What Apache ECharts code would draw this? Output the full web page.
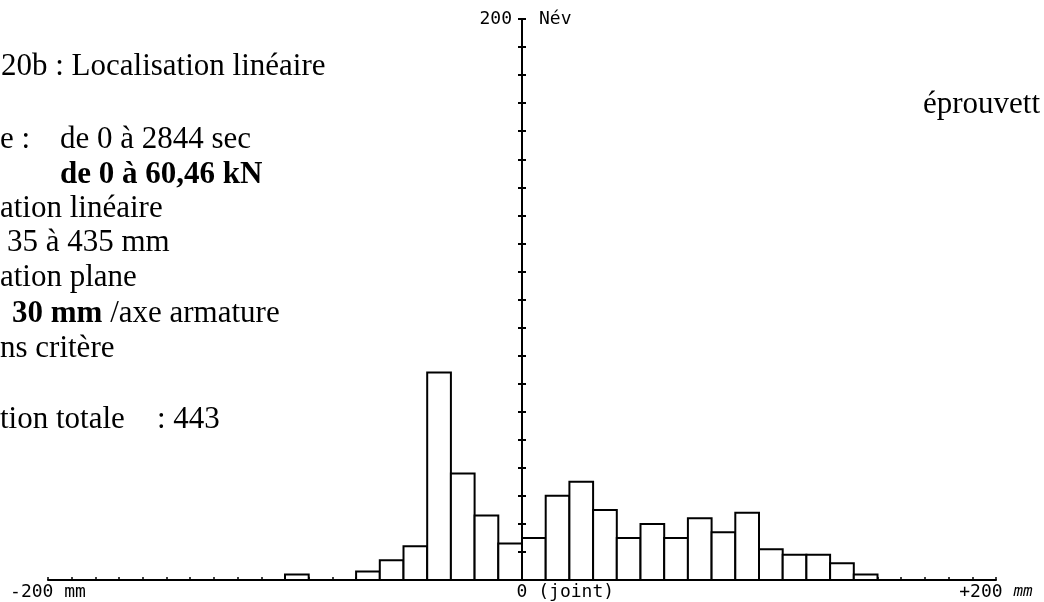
<!DOCTYPE html>
<html>
<head>
<meta charset="utf-8">
<script src="https://cdn.jsdelivr.net/npm/echarts@6/dist/echarts.min.js"></script>
<style>
  html, body { margin: 0; padding: 0; background: #fff; }
  #chart { width: 1044px; height: 602px; }
</style>
</head>
<body>
<div id="chart"></div>
<script>
// Linear localisation histogram: events per 10 mm class along the specimen
const binLower = [-100, -70, -60, -50, -40, -30, -20, -10, 0, 10, 20, 30, 40, 50, 60, 70, 80, 90, 100, 110, 120, 130, 140];
const binCount = [2, 3, 7, 12, 74, 38, 23, 13, 15, 30, 35, 25, 15, 20, 15, 22, 17, 24, 11, 9, 9, 6, 2];
const binWidth = 10;

// axis ranges and tick labels
const xRange = [-200, 200];
const xTickStep = 10;
const xLabelValues = [-200, 0, 200];
const xLabelTexts = ['-200 mm', '        0 (joint)', '+200 {i|mm}'];
const yRange = [0, 200];
const yTickStep = 10;
const yTopLabel = '200';
const yUnit = 'Név';

// annotation lines (rich markup: {b|...} is bold)
const noteLines = [
  '20b : Localisation linéaire',
  'e :',
  'de 0 à 2844 sec',
  '{b|de 0 à 60,46 kN}',
  'ation linéaire',
  '35 à 435 mm',
  'ation plane',
  '{b|30 mm} /axe armature',
  'ns critère',
  'tion totale',
  ': 443',
  'éprouvett'
];

// text layout: [left x, baseline y] of each annotation line
const noteLayout = [
  [1, 77], [0, 150], [60, 150], [60, 185], [0, 219], [7, 253],
  [0, 288], [12, 324], [0, 359], [0, 430], [157, 430], [923, 115]
];

const serif = '"Liberation Serif", "DejaVu Serif", serif';
const mono = '"DejaVu Sans Mono", monospace';
const noteSize = 31;
const axisFontSize = 18;

const chart = echarts.init(document.getElementById('chart'), null, { renderer: 'canvas' });

const yAxisCommon = {
  type: 'value',
  min: yRange[0],
  max: yRange[1],
  interval: yTickStep,
  z: 10,
  splitLine: { show: false },
  axisLabel: { show: false },
  axisLine: { show: true, onZero: true, onZeroAxisIndex: 0, lineStyle: { color: '#000', width: 2 } },
  axisTick: { show: true, inside: false, length: 4, lineStyle: { color: '#000', width: 2 } }
};

chart.setOption({
  animation: false,
  backgroundColor: '#fff',
  grid: { left: 48, right: 48, top: 19, bottom: 22, containLabel: false },
  xAxis: {
    type: 'value',
    min: xRange[0],
    max: xRange[1],
    interval: xTickStep,
    splitLine: { show: false },
    axisLine: { show: true, onZero: false, lineStyle: { color: '#000', width: 2 } },
    axisTick: { show: true, inside: true, length: 3, lineStyle: { color: '#000', width: 1.5 } },
    axisLabel: {
      show: true,
      margin: 3,
      color: '#000',
      fontFamily: mono,
      fontSize: axisFontSize,
      showMinLabel: true,
      showMaxLabel: true,
      hideOverlap: false,
      rich: { i: { fontStyle: 'italic', fontFamily: mono, fontSize: axisFontSize - 2, color: '#000' } },
      formatter: function (v) {
        const i = xLabelValues.indexOf(v);
        return i >= 0 ? xLabelTexts[i] : '';
      }
    }
  },
  yAxis: [
    Object.assign({}, yAxisCommon, { position: 'left' }),
    Object.assign({}, yAxisCommon, { position: 'right' })
  ],
  series: [{
    type: 'custom',
    xAxisIndex: 0,
    yAxisIndex: 0,
    z: 2,
    data: binLower.map(function (x, i) { return [x, binCount[i]]; }),
    encode: { x: 0, y: 1 },
    renderItem: function (params, api) {
      const x0 = api.value(0);
      const bottomLeft = api.coord([x0, 0]);
      const topRight = api.coord([x0 + binWidth, api.value(1)]);
      return {
        type: 'rect',
        shape: {
          x: bottomLeft[0],
          y: topRight[1],
          width: topRight[0] - bottomLeft[0],
          height: bottomLeft[1] - topRight[1]
        },
        style: { fill: '#fff', stroke: '#000', lineWidth: 2 }
      };
    }
  }]
});

// labels at the top of the vertical axis, placed from the axis scale
const axisTop = chart.convertToPixel({ xAxisIndex: 0, yAxisIndex: 0 }, [0, yRange[1]]);

const graphics = noteLines.map(function (t, i) {
  return {
    type: 'text',
    x: noteLayout[i][0],
    y: noteLayout[i][1] - Math.round(noteSize * 0.3375),
    style: {
      text: t,
      fill: '#000',
      font: noteSize + 'px ' + serif,
      verticalAlign: 'middle',
      rich: { b: { fontWeight: 'bold', fontSize: noteSize, fontFamily: serif } }
    }
  };
});
graphics.push({
  type: 'text', x: axisTop[0] - 10, y: axisTop[1],
  style: { text: yTopLabel, fill: '#000', font: axisFontSize + 'px ' + mono, align: 'right', verticalAlign: 'middle' }
});
graphics.push({
  type: 'text', x: axisTop[0] + 17, y: axisTop[1],
  style: { text: yUnit, fill: '#000', font: axisFontSize + 'px ' + mono, align: 'left', verticalAlign: 'middle' }
});

chart.setOption({ graphic: graphics });
</script>
</body>
</html>
